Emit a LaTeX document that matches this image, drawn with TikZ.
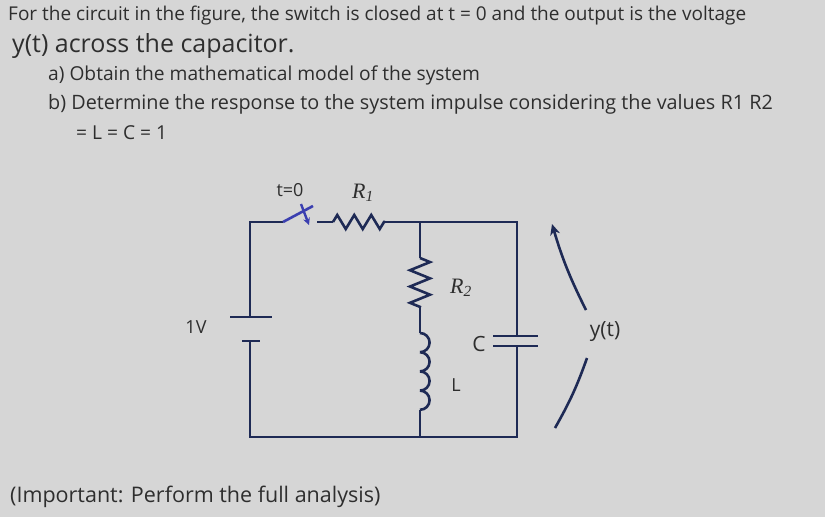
\documentclass[tikz,border=0pt]{standalone}
\usepackage{fontspec}
\setmainfont{Open Sans}
\newfontfamily\serifit{Liberation Serif}
\usetikzlibrary{decorations.pathmorphing,arrows.meta}
\definecolor{bg}{HTML}{D6D6D6}
\definecolor{txt}{HTML}{2E2E2E}
\definecolor{wire}{HTML}{1E2A55}
\definecolor{sw}{HTML}{3B3FB0}
\begin{document}
\begin{tikzpicture}[x=1pt,y=-1pt,
  txtl/.style={anchor=west,inner sep=0,text=txt,font=\fontsize{19.2}{19}\selectfont},
  lab/.style={text=txt,font=\fontsize{18}{18}\selectfont,inner sep=1},
  w/.style={draw=wire,line width=2.6pt},
  zz/.style={w,line join=miter,decorate,decoration={zigzag,amplitude=7,segment length=17}}]
\fill[bg] (0,0) rectangle (825,517);
\useasboundingbox (0,0) rectangle (825,517);
\node[txtl,font=\fontsize{19}{19}\selectfont] (l1) at (8,16) {For the circuit in the figure, the switch is closed at t = 0 and the output is the voltage};
\node[txtl,font=\fontsize{25}{25}\selectfont] (l2) at (12,46) {y(t) across the capacitor.};
\node[txtl] (l3) at (48,75) {a) Obtain the mathematical model of the system};
\node[txtl,font=\fontsize{19.8}{19}\selectfont] (l4) at (48,104) {b) Determine the response to the system impulse considering the values R1 R2};
\node[txtl] (l5) at (76,133) {= L = C = 1};
\node[txtl,font=\fontsize{21.5}{21}\selectfont] (l6) at (10,497) {(Important: Perform the full analysis)};
% circuit coordinates
\coordinate (tl) at (250,222); \coordinate (bl) at (250,437);
\coordinate (tm) at (420,222); \coordinate (bm) at (420,437);
\coordinate (tr) at (517,222); \coordinate (br) at (517,437);
\coordinate (s1) at (283,222); \coordinate (s2) at (317,222);
\coordinate (r1a) at (333,222); \coordinate (r1b) at (385,222);
\coordinate (bp) at (250,317); \coordinate (bn) at (250,341);
\draw[w] (bp) -- (tl) -- (s1);
\draw[w,draw=sw] (s1) -- (313,206);
\draw[sw,line width=2.4pt,-{Stealth[length=7pt,width=7pt]}] (301,204) -- (309,225);
\draw[w] (s2) -- (r1a);
\draw[zz] (r1a) -- (r1b);
\draw[w] (r1b) -- (tm) -- (tr) -- (517,336);
\draw[w] (517,346) -- (br) -- (bm) -- (bl) -- (bn);
\draw[w] (230,317) -- (272,317);
\draw[w] (242,341) -- (260,341);
% middle branch
\draw[w] (tm) -- (420,258);
\draw[zz,decoration={amplitude=10,segment length=16.3}] (420,258) -- (420,307);
\draw[w] (420,307) -- (420,333);
\draw[w] (420,333) \foreach \i in {0,...,3} {arc[start angle=-90,end angle=90,radius=9.6] ++(0,0)} ;
\draw[w] (420,410) -- (bm);
% capacitor
\draw[w] (493,336) -- (538,336);
\draw[w] (493,346) -- (538,346);
% labels
\node[lab] (t0) at (290,190) {t=0};
\node[lab,font=\serifit\itshape\fontsize{22}{22}\selectfont] (R1) at (363,193) {R\textsubscript{1}};
\node[lab,font=\serifit\itshape\fontsize{22}{22}\selectfont] (R2) at (461,288) {R\textsubscript{2}};
\node[lab,font=\fontsize{21}{21}\selectfont] (Cl) at (479,344) {C};
\node[lab] (Ll) at (456,385) {L};
\node[lab] (V1) at (196,327) {1V};
\node[lab,font=\fontsize{21}{21}\selectfont] (yt) at (605,332) {y(t)};
\draw[wire,line width=2.6pt,-{Stealth[length=11pt,width=10pt]}] (586,310) to[bend left=5] (552,224);
\draw[wire,line width=2.6pt] (587,358) to[bend left=5] (555,428);
\end{tikzpicture}
\end{document}
